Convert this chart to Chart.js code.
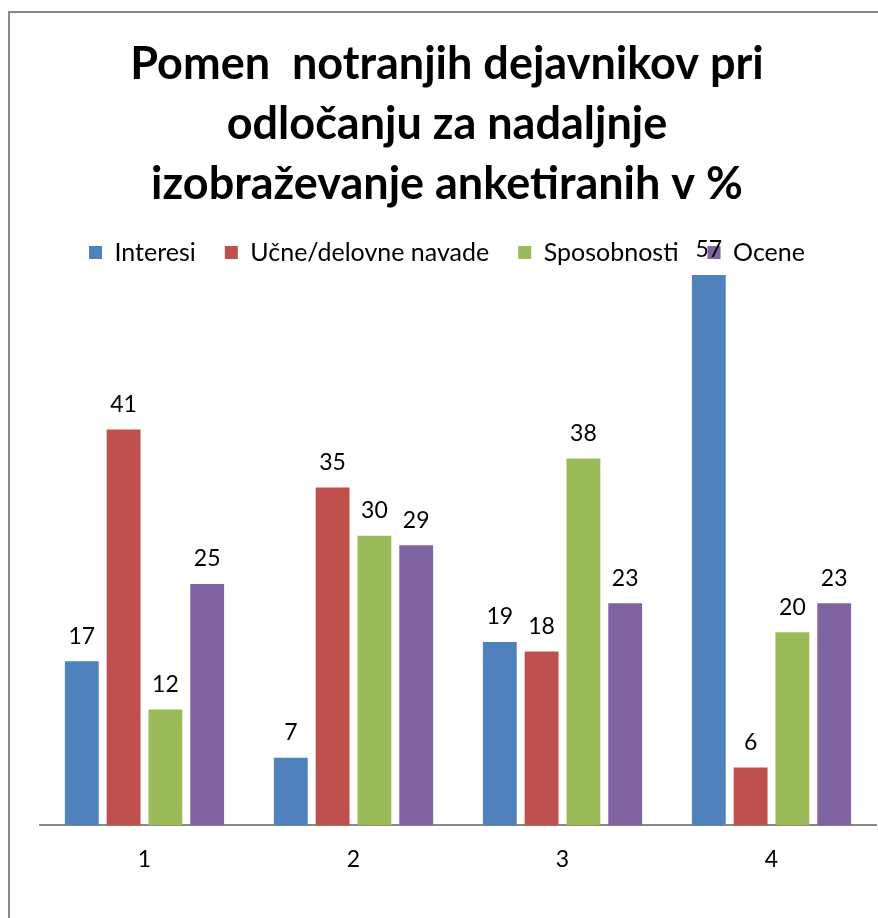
<!DOCTYPE html>
<html>
<head>
<meta charset="utf-8">
<script src="https://cdn.jsdelivr.net/npm/chart.js@4.4.1/dist/chart.umd.min.js"></script>
<style>
    html, body { margin: 0; padding: 0; background: #fff; overflow: hidden; }
    body { width: 878px; height: 918px; position: relative; }
    .frame {
        position: absolute; left: 8px; top: 11px; width: 900px; height: 940px;
        border-left: 2px solid #8a8a8a; border-top: 2px solid #8a8a8a;
    }
    #chart { position: absolute; left: 8px; top: 12px; }
</style>
</head>
<body>
<div class="frame"></div>
<canvas id="chart" width="878" height="906"></canvas>
<script>
/* ================= DATA ================= */
const categories = ['1', '2', '3', '4'];
const seriesNames = ['Interesi', 'Učne/delovne navade', 'Sposobnosti', 'Ocene'];
const interesi = [17, 7, 19, 57];
const navade = [41, 35, 18, 6];
const sposobnosti = [12, 30, 38, 20];
const ocene = [25, 29, 23, 23];
const seriesColors = ['#4F81BD', '#C0504D', '#9BBB59', '#8064A2'];

const titleLines = ['Pomen  notranjih dejavnikov pri', 'odločanju za nadaljnje', 'izobraževanje anketiranih v %'];
const FONT = 'Lato, "Liberation Sans", sans-serif';

/* ================= VALUE LABELS ================= */
// draws the number above each bar
const valueLabels = {
    id: 'valueLabels',
    afterDatasetsDraw(chart) {
        const ctx = chart.ctx;
        ctx.save();
        ctx.font = '23px ' + FONT;
        ctx.fillStyle = '#000';
        ctx.textAlign = 'center';
        ctx.textBaseline = 'middle';
        chart.data.datasets.forEach((ds, i) => {
            chart.getDatasetMeta(i).data.forEach((bar, j) => {
                ctx.fillText(ds.data[j], bar.x, bar.y - 25);
            });
        });
        ctx.restore();
    }
};

const allSeries = [interesi, navade, sposobnosti, ocene];

new Chart(document.getElementById('chart'), {
    type: 'bar',
    data: {
        labels: categories,
        datasets: allSeries.map((vals, i) => ({
            label: seriesNames[i],
            data: vals,
            backgroundColor: seriesColors[i],
            borderWidth: 0,
            categoryPercentage: 0.8,
            barPercentage: 0.81
        }))
    },
    options: {
        responsive: false,
        animation: false,
        devicePixelRatio: 1,
        layout: { padding: { left: 10, right: 10, top: 0, bottom: 25 } },
        plugins: {
            title: {
                display: true,
                text: titleLines,
                color: '#000',
                font: { family: FONT, size: 45, weight: 'bold', lineHeight: 60 / 45 },
                padding: { top: 22, bottom: -3 }
            },
            legend: {
                position: 'top',
                labels: {
                    color: '#000',
                    font: { family: FONT, size: 25 },
                    boxWidth: 13,
                    boxHeight: 13,
                    padding: 29
                }
            },
            tooltip: { enabled: false }
        },
        scales: {
            x: {
                grid: { display: false, drawTicks: false },
                border: { display: true, color: '#898989', width: 2 },
                ticks: { color: '#000', font: { family: FONT, size: 23 }, padding: 20 }
            },
            y: {
                min: 0,
                max: 57,
                grid: { display: false, drawTicks: false },
                border: { display: false },
                ticks: { display: false },
                // empty gutter on the left, value axis is not shown
                afterFit(scale) { scale.width = 22; }
            }
        }
    },
    plugins: [valueLabels]
});
</script>
</body>
</html>
